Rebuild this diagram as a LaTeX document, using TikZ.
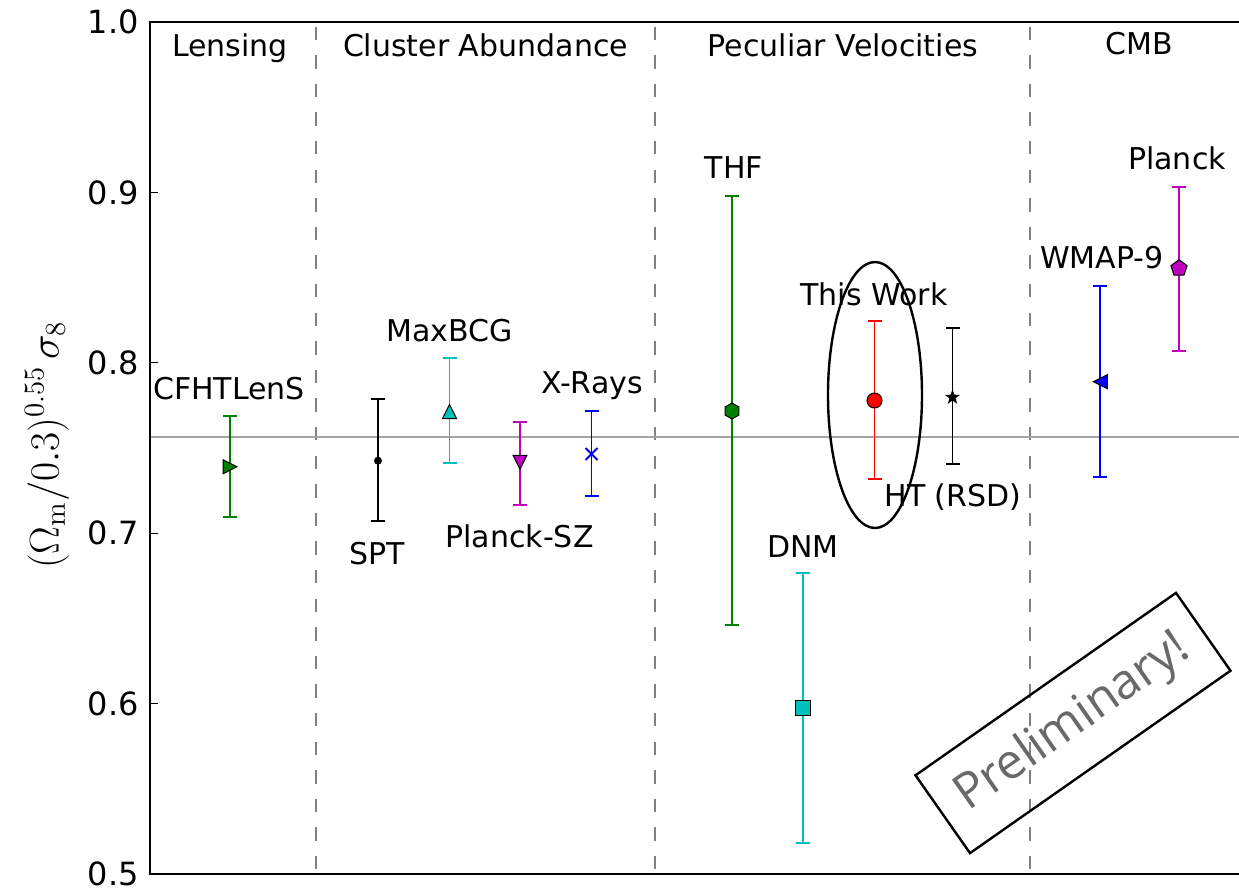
\documentclass[tikz,border=0pt]{standalone}
\usepackage[no-math]{fontspec}
\setmainfont{DejaVu Sans}
\newfontfamily\prelimfont{Open Sans}
\definecolor{mgreen}{RGB}{0,128,0}
\definecolor{mcyan}{RGB}{0,191,191}
\definecolor{mmagenta}{RGB}{191,0,191}
\definecolor{mblue}{RGB}{0,0,255}
\definecolor{mred}{RGB}{255,0,0}
\definecolor{sepgray}{RGB}{128,128,128}
\definecolor{refgray}{RGB}{165,165,165}
\definecolor{prelimgray}{RGB}{105,105,105}

% one unit = one pixel, y grows downwards
\tikzset{
  lbl/.style={font=\fontsize{15}{18}\selectfont, inner sep=0pt},
  ticklbl/.style={font=\fontsize{16}{18}\selectfont, inner sep=0pt, anchor=east},
  frame/.style={line width=1.1pt, black},
  sepline/.style={line width=1pt, sepgray, dash pattern=on 6.7pt off 7.6pt, dash phase=12pt},
  refline/.style={line width=1pt, refgray},
  ebar/.style={line width=0.95pt},
  mk/.style={line width=0.5pt, draw=black},
  tri right/.pic={\draw[mk, fill=#1] (-7,-7) -- (7,0) -- (-7,7) -- cycle;},
  tri left/.pic={\draw[mk, fill=#1] (7,-7) -- (-7,0) -- (7,7) -- cycle;},
  tri up/.pic={\draw[mk, fill=#1] (0,-7) -- (7,7) -- (-7,7) -- cycle;},
  tri down/.pic={\draw[mk, fill=#1] (0,7) -- (7,-7) -- (-7,-7) -- cycle;},
  sq mark/.pic={\draw[mk, fill=#1] (-7.5,-7.5) rectangle (7.5,7.5);},
  dot mark/.pic={\fill[black] (0,0) circle [radius=4];},
  circ mark/.pic={\draw[mk, fill=#1] (0,0) circle [radius=7.5];},
  hex mark/.pic={\draw[mk, fill=#1] (-90:8) -- (-30:8) -- (30:8) -- (90:8) -- (150:8) -- (210:8) -- cycle;},
  pent mark/.pic={\draw[mk, fill=#1] (-90:8.5) -- (-18:8.5) -- (54:8.5) -- (126:8.5) -- (198:8.5) -- cycle;},
  star mark/.pic={\fill[black] (-90:8) -- (-54:3.2) -- (-18:8) -- (18:3.2) -- (54:8) -- (90:3.2) -- (126:8) -- (162:3.2) -- (198:8) -- (234:3.2) -- cycle;},
  x mark/.pic={\draw[line width=0.95pt, #1] (-6,-6) -- (6,6) (-6,6) -- (6,-6);},
}
% error bar: x, top, bottom, colour
\newcommand\errbar[4]{%
  \draw[ebar, #4] (#1,#2) -- (#1,#3);
  \draw[ebar, #4] (#1-7,#2) -- (#1+7,#2);
  \draw[ebar, #4] (#1-7,#3) -- (#1+7,#3);
}

\begin{document}
\begin{tikzpicture}[x=0.5pt, y=-0.5pt]
\useasboundingbox[fill=white] (0,0) rectangle (1239,894);

% group separators and reference value
\foreach \sx in {316,655,1030} \draw[sepline] (\sx,22) -- (\sx,874);
\draw[refline] (150,437) -- (1239,437);

% Lensing
\errbar{230}{415.7}{517.3}{mgreen}
\pic at (230,466.7) {tri right=mgreen};
% Cluster abundance
\errbar{378}{399.3}{521}{black}
\pic at (378,460.7) {dot mark};
\errbar{449.5}{358}{462.7}{mcyan}
\pic at (449.5,411.5) {tri up=mcyan};
\errbar{520}{422}{504.7}{mmagenta}
\pic at (520,462.3) {tri down=mmagenta};
\errbar{591.5}{411}{496.3}{mblue}
\pic at (591.5,454) {x mark=mblue};
% Peculiar velocities
\errbar{732}{196}{625}{mgreen}
\pic at (732,411) {hex mark=mgreen};
\errbar{803}{573}{842.7}{mcyan}
\pic at (803,708.3) {sq mark=mcyan};
\errbar{874.5}{321}{479.3}{mred}
\pic at (874.5,400.5) {circ mark=mred};
\errbar{952.5}{328}{464}{black}
\pic at (952.5,397.3) {star mark};
% CMB
\errbar{1100.3}{285.7}{477.3}{mblue}
\pic at (1100.3,381.7) {tri left=mblue};
\errbar{1179}{186.7}{350.7}{mmagenta}
\pic at (1179,268.3) {pent mark=mmagenta};

% highlight around this work
\draw[line width=1.2pt] (875,395) ellipse [x radius=47, y radius=133];

% axes frame and ticks
\draw[frame] (1239,22) -- (150,22) -- (150,874) -- (1239,874);
\foreach \ty in {192.4,362.8,533.2,703.6} \draw[line width=0.5pt] (150,\ty) -- (158,\ty);
\node[ticklbl] (t10) at (139,22) {1.0};
\node[ticklbl] (t09) at (139,192.4) {0.9};
\node[ticklbl] (t08) at (139,362.8) {0.8};
\node[ticklbl] (t07) at (139,533.2) {0.7};
\node[ticklbl] (t06) at (139,703.6) {0.6};
\node[ticklbl] (t05) at (139,874) {0.5};

% axis title
\node[rotate=90, inner sep=0pt, font=\fontsize{21}{25}\selectfont] (ylab) at (47,445)
  {$(\Omega_{\mathrm{m}}/0.3)^{0.55}\,\sigma_8$};

% group titles
\node[lbl] (lensing) at (230,48) {Lensing};
\node[lbl] (cluster) at (485.5,45) {Cluster Abundance};
\node[lbl] (pecvel) at (843,45) {Peculiar Velocities};
\node[lbl] (cmb) at (1139,44) {CMB};

% point labels
\node[lbl] (cfht) at (229,389) {CFHTLenS};
\node[lbl] (spt) at (377.5,554) {SPT};
\node[lbl] (maxbcg) at (449.5,331) {MaxBCG};
\node[lbl] (plancksz) at (519.5,536) {Planck-SZ};
\node[lbl] (xrays) at (592,386) {X-Rays};
\node[lbl] (thf) at (734,168) {THF};
\node[lbl] (dnm) at (803,546.5) {DNM};
\node[lbl] (thiswork) at (874,294) {This Work};
\node[lbl] (ht) at (953,497) {HT (RSD)};
\node[lbl] (wmap) at (1102,258) {WMAP-9};
\node[lbl] (planck) at (1177,158.5) {Planck};

% stamp
\node[draw, line width=1.2pt, rotate=35, minimum width=159pt, minimum height=47.5pt,
      inner sep=0pt, text=prelimgray, font=\prelimfont\fontsize{24.5}{28}\selectfont]
  (prelim) at (1073,723) {Preliminary!};
\end{tikzpicture}
\end{document}
